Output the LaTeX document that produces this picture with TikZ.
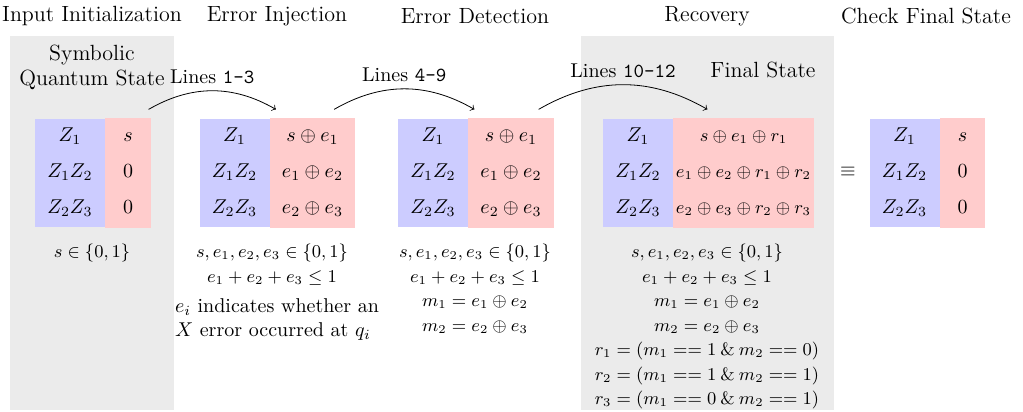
\documentclass[tikz,border=0pt]{standalone}
\usepackage{amsmath}
\usetikzlibrary{positioning}
\colorlet{genBlue}{blue!20}
\colorlet{valRed}{red!20}
\colorlet{panelGray}{black!8}
% three rows of a stabilizer table column
\newcommand{\cellrows}[4][6pt]{$#2$\strut\\[#1]$#3$\strut\\[#1]$#4$\strut}

\begin{document}
\begin{tikzpicture}[x=0.5pt, y=-0.5pt, every node/.style={font=\normalsize},
    stage/.style={font={\fontsize{11}{12.5}\selectfont}},
    gen/.style={fill=genBlue, minimum width=35pt, minimum height=54pt, inner sep=0pt, align=center},
    val/.style={fill=valRed, draw=valRed, line width=0.6pt, minimum height=54pt, inner sep=0pt, align=center},
    note/.style={align=center, anchor=north, inner sep=0pt, font={\fontsize{9}{12.25}\selectfont}}]
    \useasboundingbox (0,0) rectangle (1023,412);
    % shaded stages
    \fill[panelGray] (10,36) rectangle (174,410);
    \fill[panelGray] (581,36) rectangle (834,410);
    % stage titles
    \node[stage] (tInit) at (92,16) {Input Initialization};
    \node[stage] (tInj) at (277,16) {Error Injection};
    \node[stage] (tDet) at (475,16) {Error Detection};
    \node[stage] (tRec) at (707,16) {Recovery};
    \node[stage] (tChk) at (926,16) {Check Final State};
    \node[stage, align=center] (sym) at (92,67) {Symbolic\\Quantum State};
    \node[stage] (fin) at (763,70) {Final State};
    % tables
    \node[gen] (g1) at (70,173) {\cellrows{Z_1}{Z_1Z_2}{Z_2Z_3}};
    \node[val, minimum width=22pt, right=0pt of g1] (v1) {\cellrows{s}{0}{0}};
    \node[gen] (g2) at (234.5,173) {\cellrows{Z_1}{Z_1Z_2}{Z_2Z_3}};
    \node[val, minimum width=42pt, right=0pt of g2] (v2) {\cellrows{s \oplus e_1}{e_1 \oplus e_2}{e_2 \oplus e_3}};
    \node[gen] (g3) at (433,173) {\cellrows{Z_1}{Z_1Z_2}{Z_2Z_3}};
    \node[val, minimum width=42pt, right=0pt of g3] (v3) {\cellrows{s \oplus e_1}{e_1 \oplus e_2}{e_2 \oplus e_3}};
    \node[gen] (g4) at (638,173) {\cellrows{Z_1}{Z_1Z_2}{Z_2Z_3}};
    \node[val, minimum width=69.5pt, font=\small, right=0pt of g4] (v4) {\cellrows[7pt]{s \oplus e_1 \oplus r_1}{e_1 \oplus e_2 \oplus r_1 \oplus r_2}{e_2 \oplus e_3 \oplus r_2 \oplus r_3}};
    \node (eq) at (848,172) {$\equiv$};
    \node[gen] (g5) at (904.5,173) {\cellrows{Z_1}{Z_1Z_2}{Z_2Z_3}};
    \node[val, minimum width=22pt, right=0pt of g5] (v5) {\cellrows{s}{0}{0}};
    % program steps
    \draw[->, bend left=30] ([xshift=-1pt, yshift=4.5pt]v1.north east) to node[above] {Lines \texttt{1-3}} ([xshift=3pt, yshift=4.5pt]v2.north west);
    \draw[->, bend left=30] ([xshift=-10.5pt, yshift=4.5pt]v2.north east) to node[above] {Lines \texttt{4-9}} ([xshift=3pt, yshift=4.5pt]v3.north west);
    \draw[->, bend left=30] ([xshift=-7.5pt, yshift=4.5pt]v3.north east) to node[above] {Lines \texttt{10-12}} ([xshift=17pt, yshift=4.5pt]v4.north west);
    % constraints
    \node[note] (n1) at (92,244) {$s \in \{0,1\}$};
    \node[note] (n2) at (272,244) {$s, e_1, e_2, e_3 \in \{0,1\}$\\$e_1 + e_2 + e_3 \leq 1$};
    \node[note, align=left, font=\normalsize] (d2) at (277,298) {$e_i$ indicates whether an\\$X$ error occurred at $q_i$};
    \node[note] (n3) at (475,244) {$s, e_1, e_2, e_3 \in \{0,1\}$\\$e_1 + e_2 + e_3 \leq 1$\\$m_1 = e_1 \oplus e_2$\\$m_2 = e_2 \oplus e_3$};
    \node[note] (n4) at (707,244) {$s, e_1, e_2, e_3 \in \{0,1\}$\\$e_1 + e_2 + e_3 \leq 1$\\$m_1 = e_1 \oplus e_2$\\$m_2 = e_2 \oplus e_3$\\
        $r_1 = (m_1 == 1 \mathbin{\&} m_2 == 0)$\\$r_2 = (m_1 == 1 \mathbin{\&} m_2 == 1)$\\$r_3 = (m_1 == 0 \mathbin{\&} m_2 == 1)$};
\end{tikzpicture}
\end{document}
